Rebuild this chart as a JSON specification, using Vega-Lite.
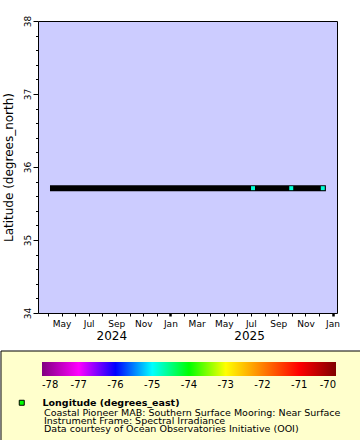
{
  "$schema": "https://vega.github.io/schema/vega-lite/v6.json",
  "autosize": {"type": "pad"},
  "padding": {"left": 0, "top": 14, "right": 0, "bottom": 0},
  "background": "white",
  "spacing": 8,
  "config": {
    "font": "DejaVu Sans",
    "view": {"stroke": null},
    "axis": {"labelFont": "DejaVu Sans", "titleFont": "DejaVu Sans", "labelColor": "black", "titleColor": "black", "tickColor": "black", "domainColor": "black", "grid": false},
    "legend": {"labelFont": "DejaVu Sans", "labelColor": "black"},
    "title": {"font": "DejaVu Sans", "color": "black"}
  },
  "datasets": {
    "track": [
      {"start": "2024-04-05", "end": "2025-12-17", "lat": 35.71}
    ],
    "obs": [
      {"time": "2025-07-06", "lat": 35.71, "lon": -74.84, "variable": "Longitude (degrees_east)"},
      {"time": "2025-09-30", "lat": 35.71, "lon": -74.84, "variable": "Longitude (degrees_east)"},
      {"time": "2025-12-10", "lat": 35.71, "lon": -74.84, "variable": "Longitude (degrees_east)"}
    ],
    "panel": [
      {"panel": "legend"}
    ]
  },
  "resolve": {"scale": {"color": "shared", "shape": "shared"}, "legend": {"color": "shared", "shape": "shared"}},
  "vconcat": [
    {
      "width": 299,
      "height": 292,
      "view": {"fill": "#CCCCFF", "stroke": "black", "strokeWidth": 1},
      "layer": [
        {
          "data": {"name": "track"},
          "mark": {"type": "rule", "strokeWidth": 6, "color": "black", "strokeCap": "butt"},
          "encoding": {
            "x": {
              "field": "start", "type": "temporal",
              "scale": {"type": "utc", "domain": [{"year": 2024, "month": 3, "date": 9, "utc": true}, {"year": 2026, "month": 1, "date": 11, "utc": true}]},
              "axis": {
                "orient": "bottom", "title": null, "domain": false, "labelOverlap": false, "labelFlush": false,
                "values": [
                  {"year": 2024, "month": 4, "date": 1, "utc": true}, {"year": 2024, "month": 5, "date": 1, "utc": true},
                  {"year": 2024, "month": 6, "date": 1, "utc": true}, {"year": 2024, "month": 7, "date": 1, "utc": true},
                  {"year": 2024, "month": 8, "date": 1, "utc": true}, {"year": 2024, "month": 9, "date": 1, "utc": true},
                  {"year": 2024, "month": 10, "date": 1, "utc": true}, {"year": 2024, "month": 11, "date": 1, "utc": true},
                  {"year": 2024, "month": 12, "date": 1, "utc": true}, {"year": 2025, "month": 1, "date": 1, "utc": true},
                  {"year": 2025, "month": 2, "date": 1, "utc": true}, {"year": 2025, "month": 3, "date": 1, "utc": true},
                  {"year": 2025, "month": 4, "date": 1, "utc": true}, {"year": 2025, "month": 5, "date": 1, "utc": true},
                  {"year": 2025, "month": 6, "date": 1, "utc": true}, {"year": 2025, "month": 7, "date": 1, "utc": true},
                  {"year": 2025, "month": 8, "date": 1, "utc": true}, {"year": 2025, "month": 9, "date": 1, "utc": true},
                  {"year": 2025, "month": 10, "date": 1, "utc": true}, {"year": 2025, "month": 11, "date": 1, "utc": true},
                  {"year": 2025, "month": 12, "date": 1, "utc": true}, {"year": 2026, "month": 1, "date": 1, "utc": true}
                ],
                "labelExpr": "utcmonth(datum.value) % 2 == 0 ? utcFormat(datum.value, '%b') : ''",
                "tickSize": 3,
                "tickWidth": {"condition": {"test": "utcmonth(datum.value) == 0", "value": 2.5}, "value": 1},
                "labelFontSize": 9,
                "labelPadding": 3
              }
            },
            "x2": {"field": "end"},
            "y": {
              "field": "lat", "type": "quantitative",
              "scale": {"domain": [34, 38], "nice": false, "zero": false},
              "axis": {
                "orient": "left",
                "title": "Latitude (degrees_north)", "titleFontSize": 12, "titleFontWeight": "normal", "titlePadding": 8,
                "values": [34, 34.2, 34.4, 34.6, 34.8, 35, 35.2, 35.4, 35.6, 35.8, 36, 36.2, 36.4, 36.6, 36.8, 37, 37.2, 37.4, 37.6, 37.8, 38],
                "labelExpr": "abs(datum.value - round(datum.value)) < 0.01 ? '' + round(datum.value) : ''",
                "labelAngle": -90, "labelFontSize": 9, "labelPadding": 1,
                "tickSize": {"condition": {"test": "abs(datum.value - round(datum.value)) < 0.01", "value": 5}, "value": 2.5},
                "domain": false, "labelOverlap": false
              }
            }
          }
        },
        {
          "data": {"name": "obs"},
          "mark": {"type": "point", "shape": "square", "filled": true, "size": 16, "opacity": 1},
          "encoding": {
            "x": {
              "field": "time", "type": "temporal",
              "axis": {
                "orient": "bottom", "title": null, "domain": false, "ticks": false, "labelFlush": false, "labelOverlap": false,
                "values": [{"year": 2024, "month": 8, "date": 21, "utc": true}, {"year": 2025, "month": 6, "date": 27, "utc": true}],
                "labelExpr": "utcFormat(datum.value, '%Y')",
                "labelFontSize": 12, "labelPadding": 17
              }
            },
            "y": {
              "field": "lat", "type": "quantitative", "axis": null
            },
            "color": {
              "field": "lon", "type": "quantitative",
              "scale": {
                "type": "linear",
                "domain": [-78, -77, -76, -75, -74, -73, -72, -71, -70],
                "range": ["#800080", "#FF00FF", "#0000FF", "#00FFFF", "#00FF00", "#FFFF00", "#FF8000", "#FF0000", "#800000"],
                "interpolate": "rgb"
              },
              "legend": {
                "orient": "none", "legendX": 4, "legendY": 341, "direction": "horizontal", "title": null,
                "gradientLength": 294, "gradientThickness": 14, "gradientStrokeWidth": 0,
                "values": [-78, -77, -76, -75, -74, -73, -72, -71, -70],
                "labelExpr": "'' + datum.value",
                "labelFontSize": 10, "labelAlign": "center", "labelOffset": 4, "padding": 0
              }
            },
            "shape": {
              "field": "variable", "type": "nominal",
              "scale": {"range": ["square"]},
              "legend": {
                "orient": "none", "legendX": -21, "legendY": 377, "title": null, "padding": 0,
                "symbolType": "square", "symbolSize": 25, "symbolFillColor": "#00FF00", "symbolStrokeColor": "black", "symbolStrokeWidth": 1,
                "labelFontWeight": "bold", "labelFontSize": 9.5, "labelOffset": 16
              }
            }
          }
        }
      ],
      "resolve": {"axis": {"x": "independent", "y": "independent"}}
    },
    {
      "width": 299,
      "height": 90,
      "data": {"name": "panel"},
      "mark": {"type": "rect", "fill": "#FFFFCC", "stroke": "black", "strokeWidth": 1},
      "encoding": {
        "x": {"datum": -79.116, "type": "quantitative", "scale": {"domain": [-78.109, -69.973], "nice": false, "zero": false}, "axis": null},
        "x2": {"datum": -69.32}
      },
      "title": {
        "text": ["Coastal Pioneer MAB: Southern Surface Mooring: Near Surface", "Instrument Frame: Spectral Irradiance", "Data courtesy of Ocean Observatories Initiative (OOI)"],
        "anchor": "start", "frame": "group", "orient": "top", "offset": -83, "dx": 6,
        "fontSize": 9.5, "fontWeight": "normal", "lineHeight": 8, "color": "black"
      }
    }
  ]
}
